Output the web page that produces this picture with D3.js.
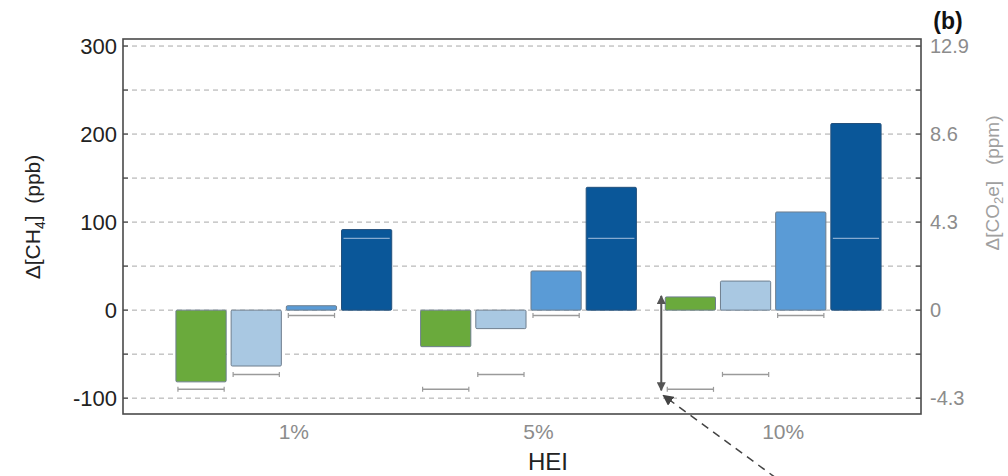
<!DOCTYPE html>
<html>
<head>
<meta charset="utf-8">
<script src="https://cdn.jsdelivr.net/npm/d3@7"></script>
<style>
  html, body { margin: 0; padding: 0; background: #fff; }
  svg { display: block; font-family: "Liberation Sans", Arial, sans-serif; }
</style>
</head>
<body>
<svg id="chart" width="1008" height="476"></svg>
<script>
// ---- data ----
const categories = ["1%", "5%", "10%"];
const seriesNames = ["s1", "s2", "s3", "s4"];
const seriesColors = ["#6aaa3c", "#a9c8e2", "#5a9bd6", "#0a5799"];
const valuesS1 = [-81.5, -41.5, 15];
const valuesS2 = [-63.5, -21, 33];
const valuesS3 = [5, 44.5, 111.5];
const valuesS4 = [91.5, 139.5, 212];
const referenceValues = [-90, -73, -6, 81.5];
const leftTicks = [-100, 0, 100, 200, 300];
const leftTickLabels = ["-100", "0", "100", "200", "300"];
const rightTickLabels = ["-4.3", "0", "4.3", "8.6", "12.9"];
const minorTicks = [-100, -50, 0, 50, 100, 150, 200, 250, 300];

const seriesValues = [valuesS1, valuesS2, valuesS3, valuesS4];

const svg = d3.select("#chart");
const frame = { left: 123, right: 921, top: 39, bottom: 414 };

const y = d3.scaleLinear().domain([-118, 308]).range([frame.bottom, frame.top]);
const x0 = d3.scaleBand().domain(categories).range([161.5, 895.5])
  .paddingInner(0.118).paddingOuter(0.059);
const x1 = d3.scaleBand().domain(seriesNames).range([0, x0.bandwidth()]).paddingInner(0.09);

// gridlines
svg.append("g").selectAll("line").data(minorTicks).join("line")
  .attr("x1", frame.left).attr("x2", frame.right)
  .attr("y1", d => y(d)).attr("y2", d => y(d))
  .attr("stroke", "#a8a8a8").attr("stroke-width", 1).attr("stroke-dasharray", "5,4");

// bars
const groups = svg.append("g").selectAll("g").data(categories).join("g")
  .attr("transform", d => `translate(${x0(d)},0)`);

groups.each(function(cat, ci) {
  const g = d3.select(this);
  seriesNames.forEach((s, si) => {
    const v = seriesValues[si][ci];
    g.append("rect")
      .attr("x", x1(s)).attr("width", x1.bandwidth())
      .attr("y", y(Math.max(0, v))).attr("height", Math.abs(y(v) - y(0)))
      .attr("rx", 1.2)
      .attr("fill", seriesColors[si])
      .attr("stroke", si === 3 ? "#23507c" : "#6e7e8e").attr("stroke-width", 1);
  });
  // reference markers
  seriesNames.forEach((s, si) => {
    const r = referenceValues[si];
    const xa = x1(s) + 2, xb = x1(s) + x1.bandwidth() - 2;
    const yy = y(r);
    if (si === 3) {
      g.append("line").attr("x1", xa).attr("x2", xb).attr("y1", yy).attr("y2", yy)
        .attr("stroke", "#86aad0").attr("stroke-width", 1.2);
    } else {
      const col = "#9a9a9a";
      g.append("line").attr("x1", xa).attr("x2", xb).attr("y1", yy).attr("y2", yy)
        .attr("stroke", col).attr("stroke-width", 1.5);
      [xa, xb].forEach(xx => g.append("line").attr("x1", xx).attr("x2", xx)
        .attr("y1", yy - 2.5).attr("y2", yy + 2.5).attr("stroke", col).attr("stroke-width", 1.2));
    }
  });
});

// axes
const leftAxis = d3.axisLeft(y).tickValues(leftTicks).tickSize(0).tickPadding(6)
  .tickFormat((d, i) => leftTickLabels[i]);
const gl = svg.append("g").attr("transform", `translate(${frame.left},0)`).call(leftAxis);
gl.select(".domain").remove();
gl.selectAll("text").attr("font-size", 22).attr("fill", "#222").attr("font-family", "Liberation Sans, Arial, sans-serif");

const rightAxis = d3.axisRight(y).tickValues(leftTicks).tickSize(0).tickPadding(9)
  .tickFormat((d, i) => rightTickLabels[i]);
const gr = svg.append("g").attr("transform", `translate(${frame.right},0)`).call(rightAxis);
gr.select(".domain").remove();
gr.selectAll("text").attr("font-size", 20).attr("fill", "#8c8c8c").attr("font-family", "Liberation Sans, Arial, sans-serif");

// inward tick marks
[frame.left, frame.right].forEach((fx, k) => {
  svg.append("g").selectAll("line").data(minorTicks).join("line")
    .attr("x1", fx).attr("x2", k === 0 ? fx + 5 : fx - 5)
    .attr("y1", d => y(d)).attr("y2", d => y(d))
    .attr("stroke", "#444").attr("stroke-width", 1.2);
});

// frame
svg.append("rect").attr("x", frame.left).attr("y", frame.top)
  .attr("width", frame.right - frame.left).attr("height", frame.bottom - frame.top)
  .attr("fill", "none").attr("stroke", "#4a4a4a").attr("stroke-width", 1.6);

// category labels
svg.append("g").selectAll("text").data(categories).join("text")
  .attr("x", d => x0(d) + x0.bandwidth() / 2 + 10).attr("y", 439)
  .attr("text-anchor", "middle").attr("font-size", 21).attr("fill", "#8c8c8c")
  .text(d => d);

// axis titles
svg.append("text").attr("x", 548).attr("y", 470).attr("text-anchor", "middle")
  .attr("font-size", 24).attr("fill", "#222").text("HEI");

const lt = svg.append("text").attr("transform", "translate(40,217) rotate(-90)")
  .attr("text-anchor", "middle").attr("font-size", 21).attr("fill", "#222");
lt.append("tspan").text("Δ[CH");
lt.append("tspan").attr("font-size", 14).attr("dy", 5).text("4");
lt.append("tspan").attr("dy", -5).text("]\u00a0\u00a0(ppb)");

const rt = svg.append("text").attr("transform", "translate(999,183) rotate(-90)")
  .attr("text-anchor", "middle").attr("font-size", 19).attr("fill", "#a0a0a0");
rt.append("tspan").text("Δ[CO");
rt.append("tspan").attr("font-size", 13).attr("dy", 4).text("2");
rt.append("tspan").attr("dy", -4).text("e]\u00a0\u00a0\u00a0(ppm)");

svg.append("text").attr("x", 948).attr("y", 29).attr("text-anchor", "middle")
  .attr("font-size", 23).attr("font-weight", "bold").attr("fill", "#111").text("(b)");

// annotation arrows
const defs = svg.append("defs");
defs.append("marker").attr("id", "ah").attr("viewBox", "0 0 10 10").attr("refX", 9).attr("refY", 5)
  .attr("markerWidth", 9).attr("markerHeight", 9).attr("markerUnits", "userSpaceOnUse").attr("orient", "auto-start-reverse")
  .append("path").attr("d", "M0,0 L10,5 L0,10 z").attr("fill", "#555");
defs.append("marker").attr("id", "ah2").attr("viewBox", "0 0 10 10").attr("refX", 9).attr("refY", 5)
  .attr("markerWidth", 11).attr("markerHeight", 11).attr("markerUnits", "userSpaceOnUse").attr("orient", "auto")
  .append("path").attr("d", "M0,0 L10,5 L0,10 z").attr("fill", "#444");

const ax = x0("10%") - 4;
svg.append("line").attr("x1", ax).attr("x2", ax)
  .attr("y1", y(referenceValues[0]) + 1).attr("y2", y(valuesS1[2]) - 1)
  .attr("stroke", "#555").attr("stroke-width", 2)
  .attr("marker-start", "url(#ah)").attr("marker-end", "url(#ah)");

svg.append("line").attr("x1", 776).attr("y1", 478).attr("x2", ax + 2).attr("y2", y(referenceValues[0]) + 6)
  .attr("stroke", "#444").attr("stroke-width", 1.5).attr("stroke-dasharray", "8,6")
  .attr("marker-end", "url(#ah2)");
</script>
</body>
</html>
